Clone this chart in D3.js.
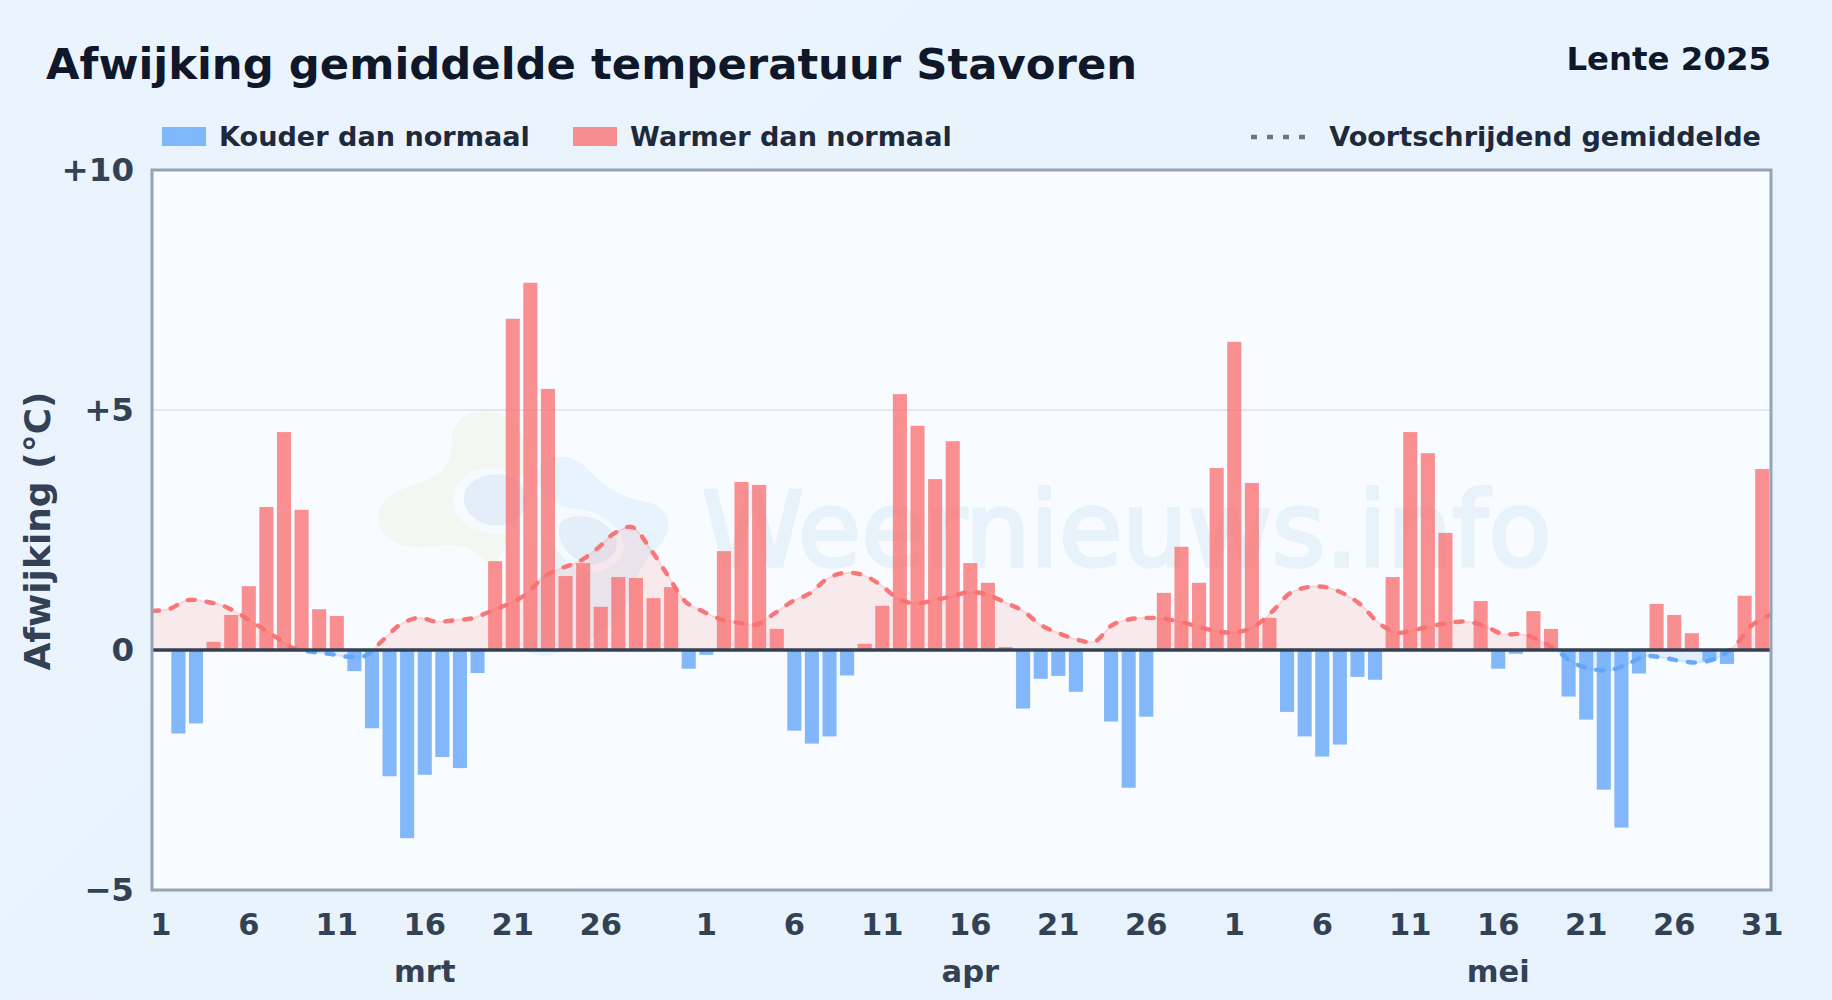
<!DOCTYPE html>
<html>
<head>
<meta charset="utf-8">
<script src="https://cdn.jsdelivr.net/npm/d3@7"></script>
<style>
  html, body { margin: 0; padding: 0; }
  body { width: 1832px; height: 1000px; overflow: hidden; background: linear-gradient(135deg, #ebf4fd, #e7f2fc); }
  svg { display: block; font-family: "DejaVu Sans", sans-serif; font-weight: 700; }
  .tick line, .domain { display: none; }
</style>
</head>
<body>
<div id="container"></div>
<script>
const maanden = ["mrt", "apr", "mei"];
const dagenPerMaand = [31, 30, 31];
const dagTicks = [1, 6, 11, 16, 21, 26];
const yTicks = [-5, 0, 5, 10];

// afwijking per dag (graden)
const afwijkingMrt = [0, -1.74, -1.53, 0.17, 0.73, 1.33, 2.98, 4.54, 2.92, 0.85, 0.71, -0.44, -1.63, -2.63, -3.92, -2.6,
  -2.23, -2.46, -0.48, 1.85, 6.9, 7.65, 5.44, 1.54, 1.81, 0.9, 1.52, 1.5, 1.08, 1.31, -0.39];
const afwijkingApr = [-0.1, 2.06, 3.5, 3.44, 0.44, -1.68, -1.95, -1.8, -0.53, 0.13, 0.92, 5.33, 4.67, 3.56, 4.35, 1.81,
  1.4, 0.06, -1.22, -0.6, -0.54, -0.87, 0, -1.49, -2.87, -1.39, 1.19, 2.15, 1.4, 3.79];
const afwijkingMei = [6.42, 3.48, 0.67, -1.29, -1.8, -2.22, -1.97, -0.56, -0.62, 1.52, 4.54, 4.1, 2.44, 0, 1.02, -0.39,
  -0.08, 0.81, 0.44, -0.97, -1.45, -2.91, -3.7, -0.49, 0.96, 0.73, 0.35, -0.23, -0.29, 1.13, 3.77];

const gemiddelde = [0.81, 0.86, 1.04, 1.01, 0.92, 0.73, 0.5, 0.26, 0.03, -0.04, -0.08, -0.14, -0.12, 0.21, 0.54, 0.67,
  0.59, 0.62, 0.66, 0.8, 0.95, 1.15, 1.51, 1.7, 1.84, 2.1, 2.43, 2.56, 2.12, 1.56, 1.01,
  0.8, 0.64, 0.57, 0.53, 0.76, 1.01, 1.18, 1.49, 1.61, 1.56, 1.35, 1.06, 0.97, 1.04, 1.12,
  1.21, 1.15, 0.99, 0.81, 0.52, 0.35, 0.22, 0.17, 0.52, 0.64, 0.67, 0.65, 0.57, 0.47, 0.38,
  0.37, 0.49, 0.8, 1.18, 1.31, 1.31, 1.18, 0.94, 0.56, 0.36, 0.42, 0.5, 0.57, 0.59, 0.49,
  0.33, 0.33, 0.21, -0.01, -0.28, -0.4, -0.42, -0.29, -0.13, -0.16, -0.23, -0.26, -0.17, 0.08, 0.52, 0.73];

const afwijking = afwijkingMrt.concat(afwijkingApr, afwijkingMei);

const w = 1832;
const h = 1000;
const margin = { top: 170, right: 61, bottom: 110, left: 152 };
const rood = "#f87171";
const blauw = "#60a5fa";

const svg = d3.select("#container").append("svg").attr("width", w).attr("height", h);

// elke dag krijgt een eigen band, labels per maand
const dagen = [];
dagenPerMaand.forEach((n, m) => {
  for (let d = 1; d <= n; d++) dagen.push({ maand: m, dag: d });
});

const xBand = d3.scaleBand()
  .domain(d3.range(dagen.length))
  .range([margin.left, w - margin.right])
  .paddingInner(0.2)
  .paddingOuter(0.1);

const xLine = d3.scaleLinear()
  .domain([0, gemiddelde.length - 1])
  .range([margin.left, w - margin.right - 1]);

const y = d3.scaleLinear().domain([-5, 10]).range([h - margin.bottom, margin.top]);

const defs = svg.append("defs");
defs.append("clipPath").attr("id", "boven").append("rect")
  .attr("x", margin.left).attr("width", w - margin.left - margin.right)
  .attr("y", margin.top).attr("height", y(0) - margin.top);
defs.append("clipPath").attr("id", "onder").append("rect")
  .attr("x", margin.left).attr("width", w - margin.left - margin.right)
  .attr("y", y(0)).attr("height", h - margin.bottom - y(0));

// plotvlak
svg.append("rect")
  .attr("x", margin.left).attr("y", margin.top)
  .attr("width", w - margin.left - margin.right)
  .attr("height", h - margin.top - margin.bottom)
  .attr("fill", "#f8fbff");

// watermerk
const blob = d3.line().curve(d3.curveBasisClosed);
const logo = svg.append("g").attr("transform", "translate(360,390) scale(0.3333)");
logo.append("path").attr("fill", "#f2f8f1")
  .attr("d", blob([[270, 120], [320, 60], [420, 65], [480, 110], [520, 200], [500, 320], [440, 450], [400, 560], [370, 500], [300, 455], [170, 480], [70, 450], [40, 360], [100, 300], [240, 265], [280, 190]]));
logo.append("path").attr("fill", "#e7f4fd")
  .attr("d", blob([[520, 230], [580, 195], [660, 205], [710, 270], [800, 330], [900, 335], [940, 410], [890, 480], [830, 540], [800, 680], [680, 760], [550, 810], [470, 780], [520, 620], [570, 470], [520, 330]]));
logo.append("path").attr("fill", "#f5fafe")
  .attr("d", blob([[265, 330], [310, 240], [430, 225], [540, 280], [590, 360], [700, 355], [790, 420], [800, 510], [700, 560], [610, 520], [570, 430], [420, 440], [300, 410]]));
logo.append("path").attr("fill", "#e4eef8")
  .attr("d", blob([[300, 320], [340, 262], [430, 245], [500, 280], [500, 390], [400, 415], [330, 385]]));
logo.append("path").attr("fill", "#e4eef8")
  .attr("d", blob([[585, 385], [690, 370], [765, 420], [780, 485], [710, 535], [640, 510], [600, 460]]));
svg.append("text")
  .attr("x", 702).attr("y", 566)
  .attr("font-size", 103).attr("font-weight", 400)
  .attr("fill", "#e8f2fb")
  .attr("stroke", "#e8f2fb").attr("stroke-width", 3.5)
  .text("Weernieuws.info");

// hulplijn +5
svg.append("line")
  .attr("x1", margin.left).attr("x2", w - margin.right)
  .attr("y1", y(5)).attr("y2", y(5))
  .attr("stroke", "#e2e8f0").attr("stroke-width", 2);

// vlak onder het gemiddelde, boven en onder nul apart
const area = d3.area()
  .x((d, i) => xLine(i))
  .y0(y(0))
  .y1(d => y(d))
  .curve(d3.curveCatmullRom);

svg.append("path").datum(gemiddelde)
  .attr("clip-path", "url(#boven)")
  .attr("fill", rood).attr("fill-opacity", 0.13)
  .attr("d", area);
svg.append("path").datum(gemiddelde)
  .attr("clip-path", "url(#onder)")
  .attr("fill", blauw).attr("fill-opacity", 0.13)
  .attr("d", area);

// staven
svg.append("g").selectAll("rect")
  .data(afwijking)
  .enter()
  .append("rect")
  .attr("x", (d, i) => xBand(i))
  .attr("width", xBand.bandwidth())
  .attr("y", d => y(Math.max(d, 0)))
  .attr("height", d => Math.abs(y(d) - y(0)))
  .attr("fill", d => d >= 0 ? rood : blauw)
  .attr("fill-opacity", 0.78);

// lijn: rood boven nul, blauw eronder
const line = d3.line()
  .x((d, i) => xLine(i))
  .y(d => y(d))
  .curve(d3.curveCatmullRom);

[["boven", rood], ["onder", blauw]].forEach(([clip, kleur]) => {
  const g = svg.append("g").attr("clip-path", `url(#${clip})`);
  g.append("path").datum(gemiddelde)
    .attr("fill", "none")
    .attr("stroke", kleur).attr("stroke-opacity", 0.2).attr("stroke-width", 2)
    .attr("d", line);
  g.append("path").datum(gemiddelde)
    .attr("fill", "none")
    .attr("stroke", kleur).attr("stroke-opacity", 0.95).attr("stroke-width", 4.4)
    .attr("stroke-linecap", "round")
    .attr("stroke-dasharray", "7 12")
    .attr("d", line);
});

// nullijn en kader
svg.append("line")
  .attr("x1", margin.left).attr("x2", w - margin.right)
  .attr("y1", y(0)).attr("y2", y(0))
  .attr("stroke", "#334155").attr("stroke-width", 3.5);

svg.append("rect")
  .attr("x", margin.left).attr("y", margin.top)
  .attr("width", w - margin.left - margin.right)
  .attr("height", h - margin.top - margin.bottom)
  .attr("fill", "none")
  .attr("stroke", "#94a3b8").attr("stroke-width", 3);

// assen
const yAxis = d3.axisLeft(y)
  .tickValues(yTicks)
  .tickSize(0)
  .tickPadding(18)
  .tickFormat(d => d > 0 ? "+" + d : d < 0 ? "\u2212" + Math.abs(d) : "0");

svg.append("g")
  .attr("transform", `translate(${margin.left},0)`)
  .call(yAxis)
  .call(g => g.selectAll("text")
    .attr("font-size", 32.5).attr("fill", "#334155").attr("font-family", "DejaVu Sans").attr("font-weight", 700));

// 31 alleen aan het eind van de as, anders botst het met de 1 van april
const xAxis = d3.axisBottom(xBand)
  .tickValues(d3.range(dagen.length).filter(i => dagTicks.includes(dagen[i].dag) || i === dagen.length - 1))
  .tickSize(0)
  .tickPadding(23)
  .tickFormat(i => dagen[i].dag);

svg.append("g")
  .attr("transform", `translate(0,${h - margin.bottom})`)
  .call(xAxis)
  .call(g => g.selectAll("text")
    .attr("font-size", 30.5).attr("fill", "#334155").attr("font-family", "DejaVu Sans").attr("font-weight", 700));

// maandnamen op de 16e
svg.append("g").selectAll("text")
  .data(maanden)
  .enter()
  .append("text")
  .attr("x", (d, m) => xBand(dagen.findIndex(e => e.maand === m && e.dag === 16)) + xBand.bandwidth() / 2)
  .attr("y", 982)
  .attr("text-anchor", "middle")
  .attr("font-size", 30.5)
  .attr("fill", "#334155")
  .text(d => d);

svg.append("text")
  .attr("transform", "translate(50,531) rotate(-90)")
  .attr("text-anchor", "middle")
  .attr("font-size", 36)
  .attr("fill", "#334155")
  .text("Afwijking (°C)");

// titel
svg.append("text")
  .attr("x", 46).attr("y", 79)
  .attr("font-size", 43.35)
  .attr("fill", "#0f172a")
  .text("Afwijking gemiddelde temperatuur Stavoren");

svg.append("text")
  .attr("x", 1771).attr("y", 70)
  .attr("text-anchor", "end")
  .attr("font-size", 32.4)
  .attr("fill", "#0f172a")
  .text("Lente 2025");

// legenda
const legenda = svg.append("g").attr("font-size", 27.1).attr("fill", "#1e293b");
legenda.append("rect").attr("x", 162).attr("y", 127).attr("width", 44).attr("height", 19)
  .attr("fill", blauw).attr("fill-opacity", 0.78);
legenda.append("text").attr("x", 219).attr("y", 146).text("Kouder dan normaal");
legenda.append("rect").attr("x", 573).attr("y", 127).attr("width", 44).attr("height", 19)
  .attr("fill", rood).attr("fill-opacity", 0.78);
legenda.append("text").attr("x", 630).attr("y", 146).text("Warmer dan normaal");
legenda.append("line").attr("x1", 1251).attr("x2", 1309).attr("y1", 137).attr("y2", 137)
  .attr("stroke", "#64748b").attr("stroke-width", 4.5).attr("stroke-dasharray", "6 10");
legenda.append("text").attr("x", 1761).attr("y", 146).attr("text-anchor", "end").text("Voortschrijdend gemiddelde");
</script>
</body>
</html>
